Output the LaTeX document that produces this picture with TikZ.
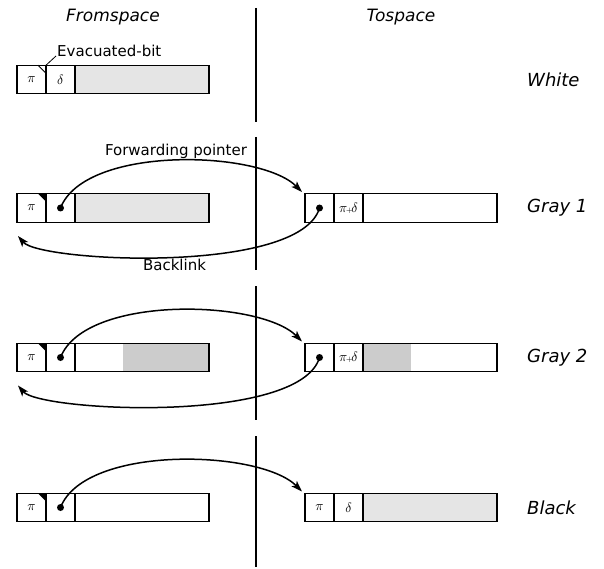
\documentclass[tikz,border=0pt]{standalone}
\usepackage{fontspec}
\setmainfont{DejaVu Sans}
\usetikzlibrary{arrows.meta}
\definecolor{lightfill}{gray}{0.9}
\definecolor{midfill}{gray}{0.8}
% field symbols, enlarged to suit the cell size
\newcommand\fieldsym[1]{\scalebox{1.35}{$#1$}}
\newcommand\sumsym{\scalebox{1.35}{$\pi\mkern-2mu{\scriptscriptstyle+}\mkern-2mu\delta$}}
\begin{document}
\begin{tikzpicture}[x=1pt,y=-1pt,
  cell/.style={draw, line width=1.1pt, minimum height=28.5pt, inner sep=0pt,
    outer sep=0pt, anchor=west},
  narrow/.style={cell, minimum width=29pt},
  wide/.style={cell, minimum width=134pt},
  dotmark/.style={circle, fill, inner sep=0pt, minimum size=7pt},
  ptr/.style={line width=1.5pt, -{Stealth[length=11pt,width=7.5pt,inset=2.5pt]}},
  divider/.style={line width=2.4pt},
  lbl/.style={font=\fontsize{15}{18}\selectfont},
  hdr/.style={font=\fontsize{17}{20}\selectfont\itshape},
  state/.style={font=\fontsize{18}{20}\selectfont\itshape, anchor=west, inner sep=0pt},
  partfill/.style 2 args={path picture={\fill[midfill]
      ([xshift=#1]path picture bounding box.south west)
      rectangle ([xshift=#1+#2]path picture bounding box.north west);}},
]
\useasboundingbox (0,0) rectangle (604,569);

% headings and the dividing line between the two spaces
\node[hdr] (from) at (113,17) {Fromspace};
\node[hdr] (to) at (401,17) {Tospace};
\draw[divider] (256,8) -- (256,122);
\draw[divider] (256,137) -- (256,270);
\draw[divider] (256,286) -- (256,420);
\draw[divider] (256,436) -- (256,567);

% state names
\node[state] (s1) at (527,79.5) {White};
\node[state] (s2) at (527,207.5) {Gray 1};
\node[state] (s3) at (527,357.5) {Gray 2};
\node[state] (s4) at (527,507.5) {Black};

% ---- White: original object only
\node[narrow] (wpi) at (17,79.5) {\fieldsym{\pi}};
\node[narrow] (wd) at (wpi.east) {\fieldsym{\delta}};
\node[wide, fill=lightfill] (wr) at (wd.east) {};
\draw[line width=0.8pt] ([xshift=-8pt]wpi.north east) -- ([yshift=-8pt]wpi.north east);
\coordinate (evac) at (56,56);
\draw[line width=0.8pt] (wpi.north east) -- (evac);
\node[lbl, anchor=west, inner sep=0pt] (evaclbl) at (57,51) {Evacuated-bit};

% ---- Gray 1: copy allocated, forwarding pointer and backlink
\node[narrow] (apI) at (17,208) {\fieldsym{\pi}};
\node[narrow] (adI) at (apI.east) {};
\node[wide, fill=lightfill] (arI) at (adI.east) {};
\fill ([xshift=-8pt]apI.north east) -- (apI.north east) -- ([yshift=-8pt]apI.north east) -- cycle;
\node[narrow] (bpI) at (305,208) {};
\node[narrow] (bdI) at (bpI.east) {\sumsym};
\node[wide] (brI) at (bdI.east) {};
\node[dotmark] (fdotI) at (adI.center) {};
\node[dotmark] (tdotI) at (bpI.center) {};
\coordinate (tipI) at (302,192);
\coordinate (backI) at (18,236);
\draw[ptr] (fdotI.center) .. controls +(24.5,-63) and +(-42,-42) .. (tipI);
\draw[ptr] (tdotI.center) .. controls +(-19.5,67) and +(22,26) .. (backI);
\node[lbl] (fwdlbl) at (176,151) {Forwarding pointer};
\node[lbl] (backlbl) at (174.5,265) {Backlink};

% ---- Gray 2: copying in progress
\node[narrow] (apII) at (17,357.5) {\fieldsym{\pi}};
\node[narrow] (adII) at (apII.east) {};
\node[wide, partfill={48pt}{86pt}] (arII) at (adII.east) {};
\fill ([xshift=-8pt]apII.north east) -- (apII.north east) -- ([yshift=-8pt]apII.north east) -- cycle;
\node[narrow] (bpII) at (305,357.5) {};
\node[narrow] (bdII) at (bpII.east) {\sumsym};
\node[wide, partfill={0pt}{48pt}] (brII) at (bdII.east) {};
\node[dotmark] (fdotII) at (adII.center) {};
\node[dotmark] (tdotII) at (bpII.center) {};
\coordinate (tipII) at (302,341.5);
\coordinate (backII) at (18,385.5);
\draw[ptr] (fdotII.center) .. controls +(24.5,-63) and +(-42,-42) .. (tipII);
\draw[ptr] (tdotII.center) .. controls +(-19.5,67) and +(22,26) .. (backII);

% ---- Black: copy complete
\node[narrow] (apIII) at (17,507.5) {\fieldsym{\pi}};
\node[narrow] (adIII) at (apIII.east) {};
\node[wide] (arIII) at (adIII.east) {};
\fill ([xshift=-8pt]apIII.north east) -- (apIII.north east) -- ([yshift=-8pt]apIII.north east) -- cycle;
\node[narrow] (bpIII) at (305,507.5) {\fieldsym{\pi}};
\node[narrow] (bdIII) at (bpIII.east) {\fieldsym{\delta}};
\node[wide, fill=lightfill] (brIII) at (bdIII.east) {};
\node[dotmark] (fdotIII) at (adIII.center) {};
\coordinate (tipIII) at (302,491.5);
\draw[ptr] (fdotIII.center) .. controls +(24.5,-63) and +(-42,-42) .. (tipIII);
\end{tikzpicture}
\end{document}
